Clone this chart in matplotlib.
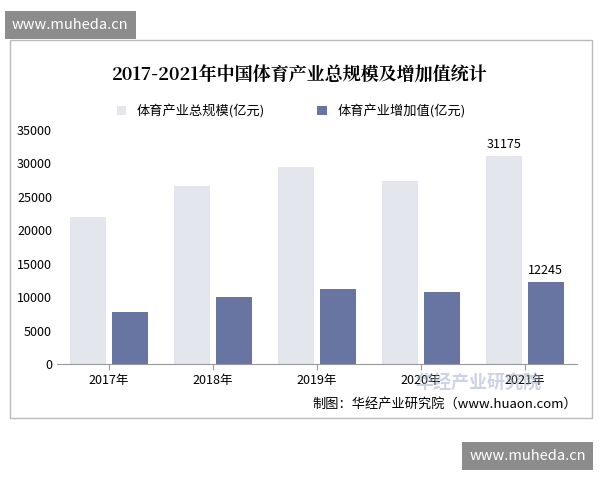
import numpy as np
import matplotlib.pyplot as plt
from matplotlib.patches import Rectangle

plt.rcParams['font.family'] = ['Noto Sans CJK SC', 'DejaVu Sans']

years = ['2017年', '2018年', '2019年', '2020年', '2021年']
total = [21988, 26579, 29483, 27372, 31175]
added = [7811, 10078, 11248, 10735, 12245]

fig = plt.figure(figsize=(6, 4.8), dpi=100)
W, H = 600, 480

# outer frame of the chart
fig.patches.append(Rectangle((10 / W, 1 - 418 / H), 582 / W, 378 / H,
                             transform=fig.transFigure, fill=False,
                             edgecolor='#bbbbbb', lw=1))

ax = fig.add_axes([57 / W, 1 - 364 / H, 520 / W, 234 / H])
x = np.arange(len(years))
w = 0.35
ax.bar(x - 0.2, total, w, color='#e4e6ee', label='体育产业总规模(亿元)')
ax.bar(x + 0.2, added, w, color='#6875a3', label='体育产业增加值(亿元)')
ax.text(x[-1] - 0.2, total[-1] + 700, str(total[-1]), ha='center', va='bottom', fontsize=9)
ax.text(x[-1] + 0.2, added[-1] + 700, str(added[-1]), ha='center', va='bottom', fontsize=9)

ax.set_ylim(0, 35000)
ax.set_yticks(range(0, 35001, 5000))
ax.set_xlim(-0.5, 4.5)
ax.set_xticks(x)
ax.set_xticklabels(years)
ax.tick_params(labelsize=9, length=0)
ax.tick_params(axis='x', length=4, color='#999999')
for s in ['top', 'right', 'left']:
    ax.spines[s].set_visible(False)
ax.spines['bottom'].set_color('#999999')

fig.text(0.5, 1 - 76 / H, '2017-2021年中国体育产业总规模及增加值统计',
         ha='center', va='center', fontsize=13, fontweight='bold',
         family=['Noto Serif CJK SC', 'Noto Sans CJK SC'])
ax.legend(loc='lower center', bbox_to_anchor=(0.45, 1.0), ncol=2, frameon=False,
          fontsize=9.5, handlelength=0.7, handleheight=0.7, columnspacing=4)

fig.text(415 / W, 1 - 383 / H, '华经产业研究院', ha='left', va='center', fontsize=13,
         color='#9aa8c8', alpha=0.5, fontweight='bold', zorder=0)
fig.text(577 / W, 1 - 404 / H, '制图：华经产业研究院（www.huaon.com）',
         ha='right', va='center', fontsize=9.5)

# site watermarks
fig.text(12 / W, 1 - 25 / H, 'www.muheda.cn', ha='left', va='center', fontsize=10.5,
         color='white', bbox=dict(boxstyle='square,pad=0.5', fc='#8c8c8c', ec='none'))
fig.text(586 / W, 1 - 456 / H, 'www.muheda.cn', ha='right', va='center', fontsize=10.5,
         color='white', bbox=dict(boxstyle='square,pad=0.5', fc='#8c8c8c', ec='none'))

fig.savefig('out.png', dpi=100)
